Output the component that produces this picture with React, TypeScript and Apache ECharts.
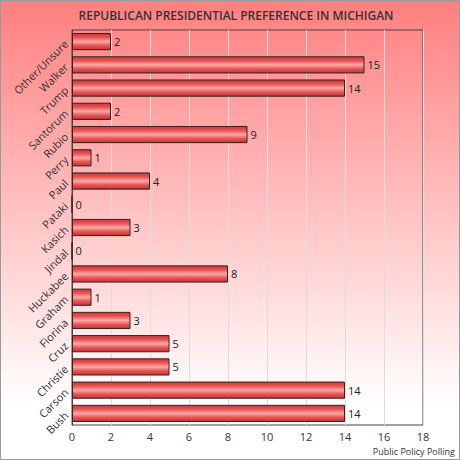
import React, { useEffect, useRef } from "react";
import * as echarts from "echarts";

const categories = ["Bush", "Carson", "Christie", "Cruz", "Fiorina", "Graham", "Huckabee", "Jindal", "Kasich", "Pataki", "Paul", "Perry", "Rubio", "Santorum", "Trump", "Walker", "Other/Unsure"];
const values = [14, 14, 5, 5, 3, 1, 8, 0, 3, 0, 4, 1, 9, 2, 14, 15, 2];
const titleText = "REPUBLICAN PRESIDENTIAL PREFERENCE IN MICHIGAN";
const sourceText = "Public Policy Polling";

export default function App() {
  const ref = useRef<HTMLDivElement>(null);
  useEffect(() => {
    if (!ref.current) return;
    const chart = echarts.init(ref.current, null, { renderer: "svg" });
    const font = "Open Sans";
    chart.setOption({
      animation: false,
      backgroundColor: {
        type: "linear", x: 0, y: 0, x2: 0, y2: 1,
        colorStops: [
          { offset: 0, color: "#ff7f7f" },
          { offset: 0.88, color: "#ffffff" },
          { offset: 1, color: "#ffffff" },
        ],
      },
      title: {
        text: titleText,
        left: 231,
        textAlign: "center",
        top: 4,
        textStyle: { fontFamily: font, fontSize: 12, fontWeight: 600, color: "#333" },
      },
      graphic: [
        {
          type: "rect",
          shape: { x: 0.5, y: 0.5, width: 459, height: 459 },
          style: { fill: "none", stroke: "#999", lineWidth: 1 },
          silent: true,
        },
        {
          type: "text",
          right: 5,
          bottom: 4,
          style: { text: sourceText, fontFamily: font, fontSize: 9, fill: "#333" },
        },
      ],
      grid: { left: 72, right: 37, top: 30, bottom: 35, show: true, borderColor: "#444", borderWidth: 1, backgroundColor: "transparent" },
      xAxis: {
        type: "value",
        min: 0,
        max: 18,
        interval: 2,
        axisLine: { show: false },
        axisTick: { show: false },
        splitLine: { show: true, lineStyle: { color: "#ddd", width: 1 } },
        axisLabel: { fontFamily: font, fontSize: 11, color: "#333", margin: 6 },
      },
      yAxis: {
        type: "category",
        data: categories,
        axisLine: { show: true, lineStyle: { color: "#444" } },
        axisTick: { show: false },
        axisLabel: { rotate: 45, fontFamily: font, fontSize: 11, color: "#333", margin: 6 },
      },
      series: [
        {
          type: "bar",
          data: values,
          barCategoryGap: "26%",
          itemStyle: {
            borderColor: "#3a2020",
            borderWidth: 1,
            color: {
              type: "linear", x: 0, y: 0, x2: 0, y2: 1,
              colorStops: [
                { offset: 0, color: "#c83a3a" },
                { offset: 0.25, color: "#e85454" },
                { offset: 0.5, color: "#ffa8a8" },
                { offset: 0.75, color: "#e85454" },
                { offset: 1, color: "#c03535" },
              ],
            },
          },
          label: { show: true, position: "right", distance: 3, fontFamily: font, fontSize: 11, color: "#222" },
        },
      ],
    });
    return () => chart.dispose();
  }, []);
  return <div ref={ref} style={{ position: "absolute", left: 0, top: 0, width: 460, height: 460 }} />;
}
